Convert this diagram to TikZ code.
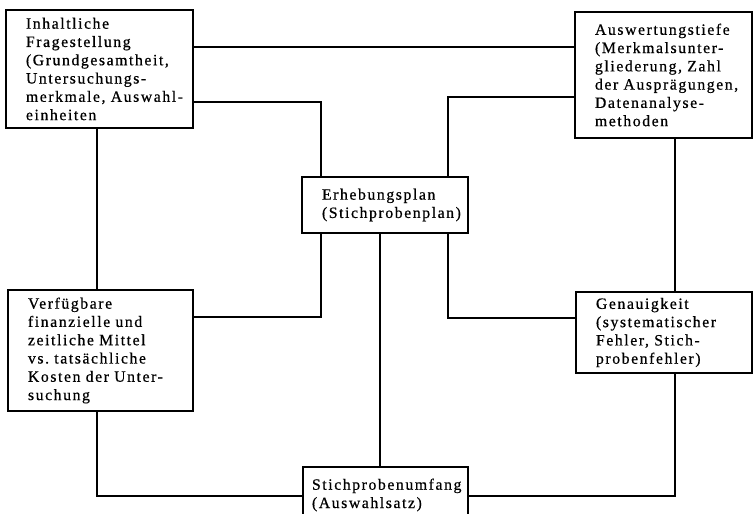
\documentclass[tikz,border=0pt]{standalone}
\usepackage{fontspec}
\setmainfont{Liberation Serif}[LetterSpace=10,FakeBold=0.6]
\exhyphenpenalty=10000
\begin{document}
\begin{tikzpicture}[x=0.025cm,y=-0.025cm,line width=1.2pt,main node/.style={draw,align=left,inner xsep=0.5cm,inner ysep=0pt,font=\fontsize{11.2}{13}\selectfont}]
	\useasboundingbox (0,0) rectangle (754,513);

	\node[main node,text width=3.675cm,minimum height=2.95cm] (frage) at (99.5,69) {Inhaltliche\\ Fragestellung\\ (Grundgesamtheit,\\ Untersuchungs-\\ merkmale,~Auswahl-\\ einheiten};
	\node[main node,text width=3.425cm,minimum height=3.15cm] (tiefe) at (663.5,75) {Auswertungstiefe\\ (Merkmalsunter-\\ gliederung,~Zahl\\ der~Ausprägungen,\\ Datenanalyse-\\ methoden};
	\node[main node,text width=3.15cm,minimum height=1.4cm] (plan) at (385,205) {Erhebungsplan\\ (Stichprobenplan)};
	\node[main node,text width=3.625cm,minimum height=3.025cm] (mittel) at (100.5,350.5) {Verfügbare\\ finanzielle~und\\ zeitliche~Mittel\\ vs.~tatsächliche\\ Kosten~der~Unter-\\ suchung};
	\node[main node,text width=3.4cm,minimum height=2.025cm] (genau) at (664,332.5) {Genauigkeit\\ (systematischer\\ Fehler,~Stich-\\ probenfehler)};
	\node[main node,inner xsep=0.225cm,text width=3.675cm,minimum height=1.4cm] (umfang) at (385.5,495) {Stichprobenumfang\\ (Auswahlsatz)};

	\coordinate (lv) at (97,0);
	\coordinate (rv) at (675,0);
	\coordinate (pl) at (321,0);
	\coordinate (pm) at (380,0);
	\coordinate (pr) at (448,0);

	\draw (frage.east |- 0,47) -- (tiefe.west |- 0,47);
	\draw (frage.east |- 0,102) -| (pl |- plan.north);
	\draw (tiefe.west |- 0,97) -| (pr |- plan.north);
	\draw (lv |- frage.south) -- (lv |- mittel.north);
	\draw (rv |- tiefe.south) -- (rv |- genau.north);
	\draw (pl |- plan.south) |- (mittel.east |- 0,317);
	\draw (pr |- plan.south) |- (genau.west |- 0,318);
	\draw (pm |- plan.south) -- (pm |- umfang.north);
	\draw (lv |- mittel.south) |- (umfang.west |- 0,496);
	\draw (rv |- genau.south) |- (umfang.east |- 0,496);
\end{tikzpicture}
\end{document}
